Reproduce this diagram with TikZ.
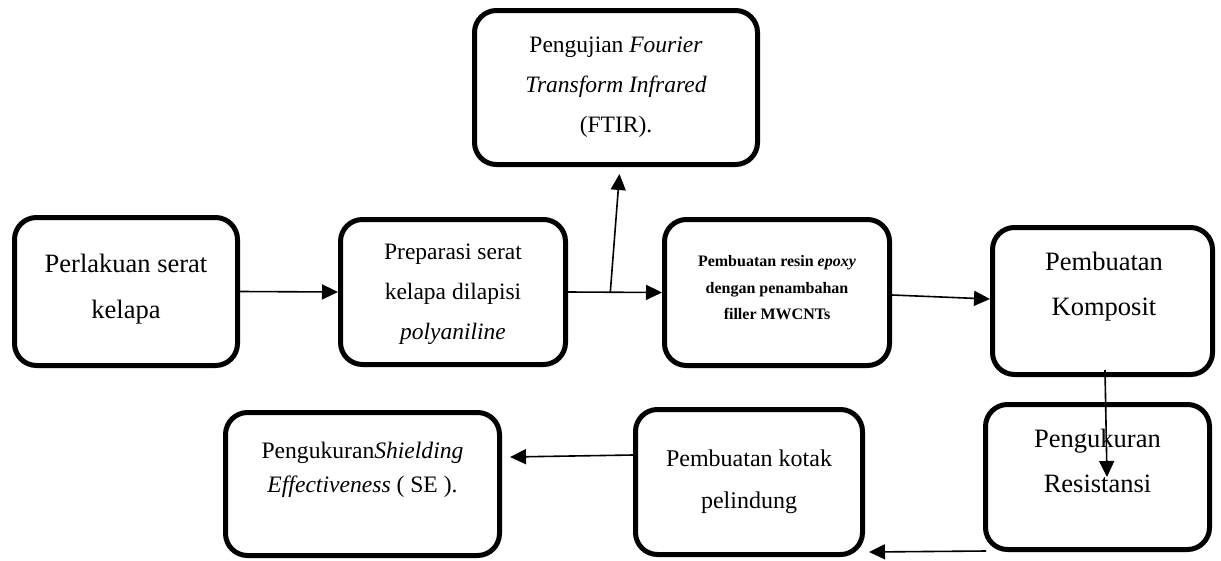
\documentclass[tikz,border=0pt]{standalone}
\usepackage{fontspec}
\setmainfont{Liberation Serif}
\usetikzlibrary{arrows.meta,calc}
\begin{document}
\begin{tikzpicture}[x=1pt,y=-1pt,
  box/.style={draw,line width=5pt,rounded corners=22pt,rectangle,inner sep=0pt},
  txt/.style={align=center,inner sep=0pt},
  arr/.style={line width=1.6pt,-{Triangle[length=16pt,width=15pt]}}]
\useasboundingbox (0,0) rectangle (1221,560);
% boxes
\node[box,minimum width=223pt,minimum height=148pt] (b1) at (126,291.5) {};
\node[box,minimum width=225pt,minimum height=145pt] (b2) at (453,292) {};
\node[box,minimum width=283pt,minimum height=154pt] (b3) at (616,87.5) {};
\node[box,minimum width=225pt,minimum height=146pt] (b4) at (777,292.5) {};
\node[box,minimum width=220pt,minimum height=147pt] (b5) at (1102.5,301) {};
\node[box,minimum width=224pt,minimum height=145pt] (b6) at (1097.5,477) {};
\node[box,minimum width=227pt,minimum height=145pt] (b7) at (749,482) {};
\node[box,minimum width=274pt,minimum height=143pt] (b8) at (362.5,484) {};
% texts
\node[txt,font=\fontsize{26.5}{46}\selectfont] (t1) at (126,289) {Perlakuan serat\\kelapa};
\node[txt,font=\fontsize{23.5}{40}\selectfont] (t2) at (453,294.5) {Preparasi serat\\kelapa dilapisi\\\textit{polyaniline}};
\node[txt,font=\fontsize{23.5}{40}\selectfont] (t3) at (616,87.5) {Pengujian \textit{Fourier}\\\textit{Transform Infrared}\\(FTIR).};
\node[txt,font=\fontsize{16}{26.5}\selectfont\bfseries] (t4) at (777,288) {Pembuatan resin \textit{epoxy}\\dengan penambahan\\filler MWCNTs};
\node[txt,font=\fontsize{26.5}{45}\selectfont] (t5) at (1104,286.5) {Pembuatan\\Komposit};
\node[txt,font=\fontsize{26.5}{45}\selectfont] (t6) at (1097.5,460.5) {Pengukuran\\Resistansi};
\node[txt,font=\fontsize{24}{42}\selectfont] (t7) at (749,481.5) {Pembuatan kotak\\pelindung};
\node[txt,font=\fontsize{23.6}{34}\selectfont] (t8) at (362.5,469.5) {Pengukuran\textit{Shielding}\\\textit{Effectiveness} ( SE ).};
% connectors
\draw[arr] (b1.east) -- (b2.west);
\coordinate (fork) at ($(b2.east)!0.45!(b4.west)$);
\draw[arr] (b2.east) -- (b4.west);
\draw[arr,shorten >=7pt] (fork) -- ($(b3.south)+(4,0)$);
\draw[arr] ($(b4.east)+(0,2.5)$) -- ($(b5.west)+(0,-2)$);
\draw[arr] ($(b5.south)+(2.5,-7)$) -- ($(b6.center)+(9.5,0)$);
\draw[arr] ($(b6.south west)+(3,-1)$) -- ($(b7.south east)+(4,-5)$);
\draw[arr] ($(b7.west)+(0,-27)$) -- ($(b8.east)+(8,-27)$);
\end{tikzpicture}
\end{document}
